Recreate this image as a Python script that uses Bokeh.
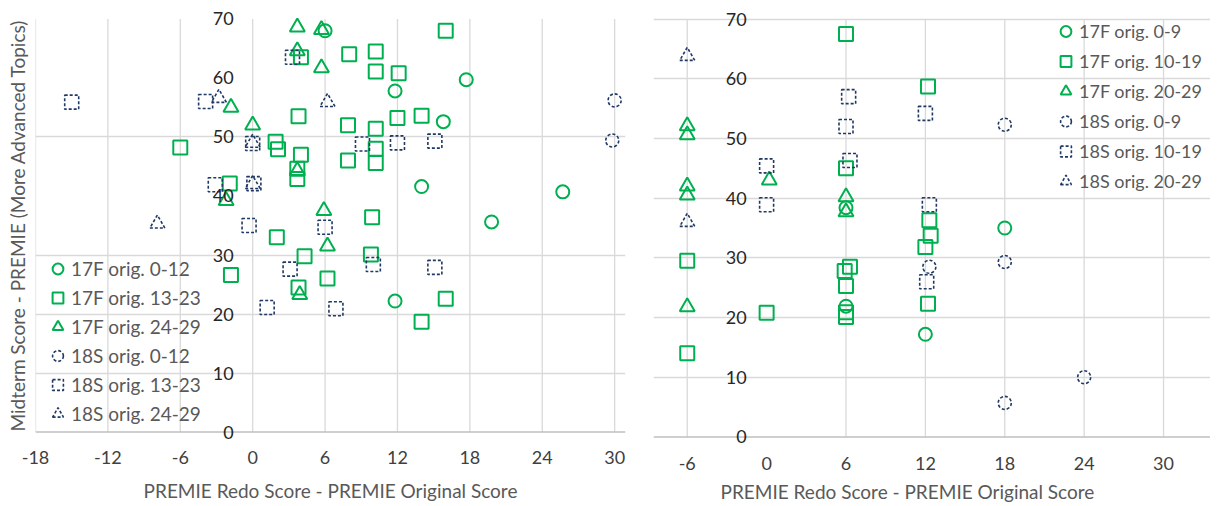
from bokeh.plotting import figure
from bokeh.layouts import row
from bokeh.models import (ColumnDataSource, LabelSet, Legend, LegendItem,
                          FixedTicker, Range1d, Span, Title)
from bokeh.embed import file_html
from bokeh.resources import INLINE
from bokeh.core.properties import value

GREEN = "#00B050"
NAVY = "#203864"
GRID = "#d9d9d9"
FONT = "Lato"

# ---------------- Left chart data ----------------
left_x_ticks = [-18, -12, -6, 0, 6, 12, 18, 24, 30]
left_y_ticks = [0, 10, 20, 30, 40, 50, 60, 70]
left_hgrid = [10, 20, 30, 50]

l17f_a_x = [6, 17.7, 11.8, 15.8, 14, 25.7, 19.8, 11.8]
l17f_a_y = [68, 59.7, 57.8, 52.6, 41.6, 40.7, 35.6, 22.2]

l17f_b_x = [16, 4, 8, 10.2, 10.2, 12.1, 3.8, 7.9, 10.2, 12, 14, 10.2, 10.2, 7.9, -6,
            1.9, 2.1, 4, 3.7, 3.7, -1.9, 2, 9.9, -1.8, 4.3, 3.8, 6.2, 9.8, 16, 14]
l17f_b_y = [68, 63.5, 64, 64.5, 61.1, 60.8, 53.5, 52, 51.4, 53.2, 53.6, 48, 45.6, 46, 48.2,
            49.2, 47.9, 47, 44.6, 42.9, 42.1, 33, 36.4, 26.6, 29.8, 24.5, 26, 30.1, 22.6, 18.7]

l17f_c_x = [3.7, 5.7, 3.7, 5.7, -1.8, 0, 3.7, -2.2, 5.9, 6.2, 3.9]
l17f_c_y = [68.6, 68.2, 64.6, 61.7, 55, 52, 44.3, 39.2, 37.5, 31.5, 23.3]

l18s_a_x = [30, 29.8]
l18s_a_y = [56.2, 49.4]

l18s_b_x = [-15, -3.9, 3.3, 0, -3.1, 0.1, -0.3, 6, 9.1, 12, 15.1, 3.1, 1.2, 6.9, 10, 15.1]
l18s_b_y = [55.9, 56, 63.5, 48.9, 41.9, 42.1, 35, 34.7, 48.8, 49, 49.3, 27.6, 21.1, 20.9, 28.4, 27.9]

l18s_c_x = [-2.8, 6.2, 0, 0, -7.9]
l18s_c_y = [56.6, 55.9, 49, 42, 35.3]

left_labels = ["17F orig. 0-12", "17F orig. 13-23", "17F orig. 24-29",
               "18S orig. 0-12", "18S orig. 13-23", "18S orig. 24-29"]

# ---------------- Right chart data ----------------
right_x_ticks = [-6, 0, 6, 12, 18, 24, 30]
right_vgrid = [-6, 6, 12, 18, 24, 30]
right_y_ticks = [0, 10, 20, 30, 40, 50, 60, 70]
right_hgrid = [10, 20, 30, 40, 50, 60, 70]

r17f_a_x = [6, 6, 12, 18]
r17f_a_y = [38.4, 21.9, 17.2, 35]

r17f_b_x = [6, 12.2, 6, -6, -6, 0, 6.3, 5.9, 6, 6, 6, 12.3, 12.4, 12, 12.2]
r17f_b_y = [67.5, 58.7, 45, 29.5, 14, 20.8, 28.5, 27.8, 25.3, 20.9, 20.1, 36.3, 33.7, 31.8, 22.3]

r17f_c_x = [-6, -6, -6, -6, -6, 0.2, 6, 6]
r17f_c_y = [52.1, 50.6, 42, 40.5, 21.8, 43, 40.2, 37.7]

r18s_a_x = [18, 18, 24, 18, 12.3]
r18s_a_y = [52.3, 29.3, 10, 5.7, 28.5]

r18s_b_x = [0, 0, 6.2, 6, 6.3, 12, 12.3, 12.1]
r18s_b_y = [45.4, 38.9, 57, 52, 46.3, 54.2, 38.9, 26]

r18s_c_x = [-6, -6]
r18s_c_y = [63.8, 36]

right_labels = ["17F orig. 0-9", "17F orig. 10-19", "17F orig. 20-29",
                "18S orig. 0-9", "18S orig. 10-19", "18S orig. 20-29"]

XTITLE = "PREMIE Redo Score - PREMIE Original Score"
YTITLE = "Midterm Score - PREMIE (More Advanced Topics)"

Y_MIN, Y_MAX = 0, 70
Y_PAD = 1.6


def base_fig(x_range, frame_w, frame_h, bl, br, bt, bb):
    p = figure(frame_width=frame_w, frame_height=frame_h, height=503,
               x_range=Range1d(*x_range), y_range=Range1d(Y_MIN - Y_PAD, Y_MAX + Y_PAD),
               output_backend="svg", toolbar_location=None,
               min_border_left=bl, min_border_right=br,
               min_border_top=bt, min_border_bottom=bb)
    p.outline_line_color = None
    p.background_fill_color = "white"
    p.border_fill_color = "white"
    p.xgrid.visible = False
    return p


def style_xaxis(p, ticks, standoff, title_standoff, with_title=True):
    ax = p.xaxis[0]
    ax.ticker = FixedTicker(ticks=ticks)
    ax.major_label_overrides = {t: str(t) for t in ticks}
    ax.axis_line_color = None
    ax.major_tick_line_color = None
    ax.minor_tick_line_color = None
    ax.major_tick_out = 0
    ax.major_tick_in = 0
    ax.major_label_standoff = standoff
    ax.major_label_text_font = FONT
    ax.major_label_text_font_size = "18px"
    ax.major_label_text_color = "#404040"
    if with_title:
        ax.axis_label = XTITLE
        ax.axis_label_text_font = FONT
        ax.axis_label_text_font_size = "19px"
        ax.axis_label_text_font_style = "normal"
        ax.axis_label_text_color = "#595959"
        ax.axis_label_standoff = title_standoff


def add_grid(p, vticks, hticks):
    src = ColumnDataSource(dict(x=vticks, y0=[Y_MIN] * len(vticks), y1=[Y_MAX] * len(vticks)))
    p.segment(x0="x", y0="y0", x1="x", y1="y1", source=src,
              line_color=GRID, line_width=1.3)
    p.ygrid.ticker = FixedTicker(ticks=hticks)
    p.ygrid.grid_line_color = GRID
    p.ygrid.grid_line_width = 1.3
    p.add_layout(Span(location=Y_MIN, dimension="width",
                      line_color="#bfbfbf", line_width=1.5))


def add_series(p, groups):
    rends = []
    for xs, ys, marker, color, dash, lw, size in groups:
        src = ColumnDataSource(dict(x=xs, y=ys))
        r = p.scatter("x", "y", source=src, marker=marker, size=size,
                      fill_color=None, line_color=color, line_width=lw,
                      line_dash=dash)
        rends.append(r)
    return rends


def add_ylabels(p, ticks, offset):
    src = ColumnDataSource(dict(x=[0] * len(ticks), y=ticks, t=[str(t) for t in ticks]))
    lab = LabelSet(x="x", y="y", text="t", source=src, x_offset=offset,
                   text_align="right", text_baseline="middle",
                   text_font=value(FONT), text_font_size=value("18px"),
                   text_color="#262626")
    p.add_layout(lab)


def add_legend(p, rends, labels, loc, gh, fs):
    items = [LegendItem(label=l, renderers=[r]) for l, r in zip(labels, rends)]
    lg = Legend(items=items, location=loc, orientation="vertical",
                glyph_width=27, glyph_height=gh, label_height=20,
                spacing=0, padding=0, margin=0, label_standoff=0,
                label_text_font=FONT, label_text_font_size=fs,
                label_text_color="#595959", label_text_baseline="middle",
                background_fill_alpha=0, border_line_color=None)
    p.add_layout(lg)


# ---------------- Left figure ----------------
pl = base_fig((-18, 30.9), 590, 432, 35, 3, 9, 62)
add_grid(pl, left_x_ticks, left_hgrid)
style_xaxis(pl, left_x_ticks, 9, 12)
ya = pl.yaxis[0]
ya.ticker = FixedTicker(ticks=[])
ya.major_label_standoff = 0
ya.major_tick_out = 0
ya.major_tick_in = 0
ya.minor_tick_line_color = None
ya.major_tick_line_color = None
ya.axis_line_color = None
ya.axis_label = YTITLE
ya.axis_label_text_font = FONT
ya.axis_label_text_font_size = "19px"
ya.axis_label_text_font_style = "normal"
ya.axis_label_text_color = "#595959"
ya.axis_label_standoff = 7

add_ylabels(pl, left_y_ticks, -19)
left_rends = add_series(pl, [
    (l17f_a_x, l17f_a_y, "circle", GREEN, "solid", 2, 13),
    (l17f_b_x, l17f_b_y, "square", GREEN, "solid", 2, 14),
    (l17f_c_x, l17f_c_y, "triangle", GREEN, "solid", 2, 15),
    (l18s_a_x, l18s_a_y, "circle", NAVY, "3 2", 1.6, 13),
    (l18s_b_x, l18s_b_y, "square", NAVY, "3 2", 1.6, 14),
    (l18s_c_x, l18s_c_y, "triangle", NAVY, "3 2", 1.6, 15),
])
add_legend(pl, left_rends, left_labels, (9, 13), 29, "19px")

# ---------------- Right figure ----------------
pr = base_fig((-8.55, 33.55), 557, 437, 25, 0, 9, 57)
add_grid(pr, right_vgrid, right_hgrid)
style_xaxis(pr, right_x_ticks, 10, 8, with_title=False)
pr.yaxis.visible = False
pr.add_layout(Title(text=XTITLE, align="left", offset=67, standoff=10,
                    text_font=FONT, text_font_size="19px",
                    text_font_style="normal", text_color="#595959"), "below")

add_ylabels(pr, right_y_ticks, -20)
right_rends = add_series(pr, [
    (r17f_a_x, r17f_a_y, "circle", GREEN, "solid", 2, 13),
    (r17f_b_x, r17f_b_y, "square", GREEN, "solid", 2, 14),
    (r17f_c_x, r17f_c_y, "triangle", GREEN, "solid", 2, 15),
    (r18s_a_x, r18s_a_y, "circle", NAVY, "3 2", 1.6, 13),
    (r18s_b_x, r18s_b_y, "square", NAVY, "3 2", 1.6, 14),
    (r18s_c_x, r18s_c_y, "triangle", NAVY, "3 2", 1.6, 15),
])
add_legend(pr, right_rends, right_labels, (399, 250), 30, "18px")

layout = row(pl, pr, spacing=0)
open("out.html", "w").write(file_html(layout, INLINE))
